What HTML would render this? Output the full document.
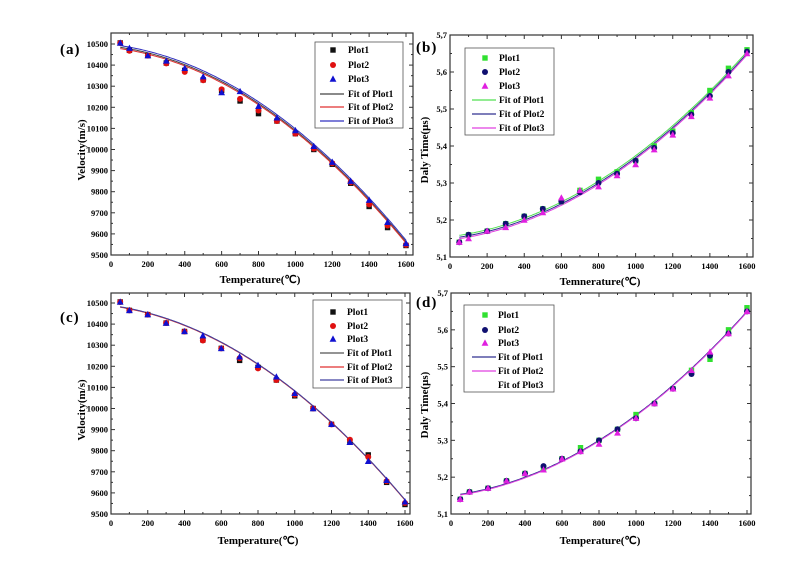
<!DOCTYPE html>
<html><head><meta charset="utf-8"><style>
body{margin:0;background:#fff;}
svg{display:block;font-family:"Liberation Serif",serif;font-weight:bold;}
</style></head><body>
<svg id="s" width="790" height="576" viewBox="0 0 790 576" xmlns="http://www.w3.org/2000/svg">
<rect width="790" height="576" fill="#fff"/>
<g font-size="11">
<text x="85" y="150" transform="rotate(-90 85 150)" text-anchor="middle">Velocity(m/s)</text>
<text x="260" y="283" text-anchor="middle">Temperature(℃)</text>
<text x="428" y="150" transform="rotate(-90 428 150)" text-anchor="middle">Daly Time(μs)</text>
<text x="600" y="285" text-anchor="middle">Temnerature(℃)</text>
<text x="85" y="410" transform="rotate(-90 85 410)" text-anchor="middle">Velocity(m/s)</text>
<text x="258" y="544" text-anchor="middle">Temperature(℃)</text>
<text x="428" y="405" transform="rotate(-90 428 405)" text-anchor="middle">Daly Time(μs)</text>
<text x="600" y="544" text-anchor="middle">Temperature(℃)</text>
</g>
<g font-size="15" font-weight="bold">
<text x="60" y="54" letter-spacing="1">(a)</text>
<text x="416" y="52" letter-spacing="1">(b)</text>
<text x="60" y="322" letter-spacing="1">(c)</text>
<text x="416" y="307" letter-spacing="1">(d)</text>
</g>
<g font-size="9.5">
<text x="348" y="53">Plot1</text><text x="348" y="68">Plot2</text><text x="348" y="82">Plot3</text>
<text x="348" y="97">Fit of Plot1</text><text x="348" y="110">Fit of Plot2</text><text x="348" y="124">Fit of Plot3</text>
<text x="499" y="61">Plot1</text><text x="499" y="75">Plot2</text><text x="499" y="89">Plot3</text>
<text x="499" y="103">Fit of Plot1</text><text x="499" y="117">Fit of Plot2</text><text x="499" y="131">Fit of Plot3</text>
<text x="347" y="315">Plot1</text><text x="347" y="329">Plot2</text><text x="347" y="342">Plot3</text>
<text x="347" y="356">Fit of Plot1</text><text x="347" y="370">Fit of Plot2</text><text x="347" y="383">Fit of Plot3</text>
<text x="498" y="318">Plot1</text><text x="498" y="333">Plot2</text><text x="498" y="346">Plot3</text>
<text x="498" y="360">Fit of Plot1</text><text x="498" y="374">Fit of Plot2</text><text x="498" y="388">Fit of Plot3</text>
</g>
</svg>
<script>
const S=document.getElementById('s'),NS='http://www.w3.org/2000/svg';
function el(t,a,p){const e=document.createElementNS(NS,t);for(const k in a)e.setAttribute(k,a[k]);(p||S).appendChild(e);return e;}
function txt(x,y,s,anc,fs){const e=el('text',{x:x,y:y,'text-anchor':anc,'font-size':fs||8.5});e.textContent=s;}
const T=[50,100,200,300,400,500,600,700,800,900,1000,1100,1200,1300,1400,1500,1600];
function marker(type,x,y,c){
 if(type=='sq')el('rect',{x:x-2.7,y:y-2.7,width:5.4,height:5.4,fill:c});
 else if(type=='ci')el('circle',{cx:x,cy:y,r:3,fill:c});
 else el('polygon',{points:`${x},${y-3.6} ${x+3.4},${y+2.7} ${x-3.4},${y+2.7}`,fill:c});
}
function panel(P){
 const X=t=>P.x0+(P.x1-P.x0)*t/1600, Y=v=>P.y0+(P.y1-P.y0)*(v-P.v0)/(P.v1-P.v0);
 el('rect',{x:P.x0,y:P.top,width:P.right-P.x0,height:P.y0-P.top,fill:'none',stroke:'#333','stroke-width':1.2});
 for(let t=0;t<=1600;t+=100){const x=X(t),maj=t%200==0,L=maj?4:2;
  el('line',{x1:x,y1:P.y0,x2:x,y2:P.y0-L,stroke:'#333'});el('line',{x1:x,y1:P.top,x2:x,y2:P.top+L,stroke:'#333'});
  if(maj)txt(x,P.y0+12,String(t),'middle');}
 const n=Math.round((P.v1-P.v0)/P.step);
 for(let i=0;i<=2*n;i++){const v=P.v0+i*P.step/2,y=Y(v),maj=i%2==0,L=maj?4:2;
  el('line',{x1:P.x0,y1:y,x2:P.x0+L,y2:y,stroke:'#333'});el('line',{x1:P.right,y1:y,x2:P.right-L,y2:y,stroke:'#333'});
  if(maj)txt(P.x0-3,y+3,P.fmt(v),'end');}
 P.fits.forEach(f=>{let d='';for(let t=50;t<=1600;t+=10)d+=(t==50?'M':'L')+X(t).toFixed(1)+','+Y(f.f(t)).toFixed(1);
  el('path',{d:d,fill:'none',stroke:f.c,'stroke-width':1});});
 P.series.forEach(s=>T.forEach((t,i)=>marker(s.m,X(t),Y(s.d[i]),s.c)));
 const L=P.leg;el('rect',{x:L.x,y:L.y,width:L.w,height:L.h,fill:'none',stroke:'#555','stroke-width':0.8});
 P.series.forEach((s,i)=>marker(s.m,L.mx,L.ys[i],s.c));
 P.fits.forEach((f,i)=>{if(f.c!='none')el('line',{x1:L.mx-13,x2:L.mx+11,y1:L.ys[i+3],y2:L.ys[i+3],stroke:f.c,'stroke-width':1.2});});
}
const va=[10505,10470,10445,10410,10375,10330,10280,10230,10170,10135,10075,10000,9930,9840,9730,9630,9545];
const vb=[10505,10468,10445,10408,10368,10328,10285,10240,10185,10135,10075,10005,9935,9845,9740,9640,9548];
const vc=[10505,10480,10445,10420,10385,10345,10270,10275,10205,10150,10090,10015,9940,9850,9760,9655,9555];
const fa=t=>10490-0.1*t-0.00030*t*t, fb=t=>fa(t)-6, fc=t=>fa(t)+8;
const fmtV=v=>String(Math.round(v)), fmtD=v=>v.toFixed(1).replace('.',',');
panel({x0:111,x1:406,right:413,top:33,y0:255,y1:44,v0:9500,v1:10500,step:100,fmt:fmtV,
 series:[{m:'sq',c:'#111',d:va},{m:'ci',c:'#e01010',d:vb},{m:'tr',c:'#1010d0',d:vc}],
 fits:[{c:'#444',f:fa},{c:'#e03030',f:fb},{c:'#3030c0',f:fc}],
 leg:{x:315,y:42,w:88,h:86,mx:333,ys:[50,65,79,94,107,121]}});
const vd=[10505,10465,10445,10405,10365,10325,10285,10228,10195,10135,10060,10000,9925,9845,9780,9650,9545];
const ve=[10505,10465,10445,10405,10365,10322,10285,10238,10190,10135,10065,10000,9925,9852,9770,9655,9552];
const vf=[10505,10465,10445,10405,10365,10345,10285,10245,10205,10150,10072,10000,9925,9840,9750,9660,9558];
const fd=t=>10488-0.12*t-0.000285*t*t;
panel({x0:111,x1:405,right:410,top:293,y0:514,y1:303,v0:9500,v1:10500,step:100,fmt:fmtV,
 series:[{m:'sq',c:'#111',d:vd},{m:'ci',c:'#e01010',d:ve},{m:'tr',c:'#1010d0',d:vf}],
 fits:[{c:'#555',f:fd},{c:'#e03030',f:t=>fd(t)-1},{c:'#4040a0',f:t=>fd(t)+1}],
 leg:{x:313,y:300,w:89,h:88,mx:333,ys:[312,326,339,353,367,380]}});
const db=[5.14,5.16,5.17,5.19,5.21,5.23,5.25,5.28,5.31,5.33,5.36,5.40,5.44,5.49,5.55,5.61,5.66];
const dc=[5.14,5.16,5.17,5.19,5.21,5.23,5.25,5.275,5.30,5.325,5.36,5.395,5.435,5.485,5.535,5.60,5.655];
const dd=[5.14,5.15,5.17,5.18,5.20,5.22,5.26,5.28,5.29,5.32,5.35,5.39,5.43,5.48,5.53,5.59,5.65];
const fg=t=>5.15+6.25e-5*t+1.5625e-7*t*t;
panel({x0:450,x1:747,right:753,top:35,y0:257,y1:35,v0:5.1,v1:5.7,step:0.1,fmt:fmtD,
 series:[{m:'sq',c:'#30e030',d:db},{m:'ci',c:'#101070',d:dc},{m:'tr',c:'#e020e0',d:dd}],
 fits:[{c:'#50e050',f:t=>fg(t)+0.005},{c:'#303090',f:fg},{c:'#e040e0',f:t=>fg(t)-0.004}],
 leg:{x:465,y:48,w:89,h:87,mx:485,ys:[58,72,86,100,114,128]}});
const de=[5.14,5.16,5.17,5.19,5.21,5.22,5.25,5.28,5.30,5.33,5.37,5.40,5.44,5.49,5.52,5.60,5.66];
const df=[5.14,5.16,5.17,5.19,5.21,5.23,5.25,5.27,5.30,5.33,5.36,5.40,5.44,5.48,5.53,5.59,5.65];
const dg=[5.14,5.16,5.17,5.19,5.21,5.22,5.25,5.27,5.29,5.32,5.36,5.40,5.44,5.49,5.54,5.59,5.65];
panel({x0:451,x1:747,right:751,top:293,y0:514,y1:293,v0:5.1,v1:5.7,step:0.1,fmt:fmtD,
 series:[{m:'sq',c:'#30e030',d:de},{m:'ci',c:'#101070',d:df},{m:'tr',c:'#e020e0',d:dg}],
 fits:[{c:'#303090',f:fg},{c:'#e040e0',f:t=>fg(t)-0.002},{c:'none',f:fg}],
 leg:{x:464,y:305,w:90,h:87,mx:485,ys:[315,330,343,357,371,385]}});
</script>
</body></html>
